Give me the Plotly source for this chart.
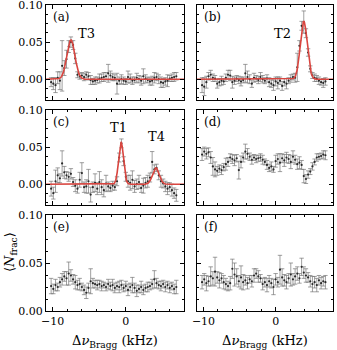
import numpy as np
import plotly.graph_objects as go

# ---------------- data ----------------
freq_khz = [-10.2, -9.9, -9.6, -9.3, -9.0, -8.7, -8.4, -8.1, -7.8, -7.5,
            -7.2, -6.9, -6.6, -6.3, -6.0, -5.7, -5.4, -5.1, -4.8, -4.5,
            -4.2, -3.9, -3.6, -3.3, -3.0, -2.7, -2.4, -2.1, -1.8, -1.5,
            -1.2, -0.9, -0.6, -0.3, 0.0, 0.3, 0.6, 0.9, 1.2, 1.5,
            1.8, 2.1, 2.4, 2.7, 3.0, 3.3, 3.6, 3.9, 4.2, 4.5,
            4.8, 5.1, 5.4, 5.7, 6.0, 6.3, 6.6, 6.9]

nfrac_a = [-0.004, -0.006, -0.008, 0.002, -0.002, 0.018, 0.015, 0.027, 0.044, 0.050,
           0.046, 0.028, 0.006, 0.004, 0.005, 0.003, 0.006, 0.004, -0.001, -0.003,
           -0.002, -0.001, 0.001, 0.002, 0.003, 0.004, 0.008, 0.005, 0.003, 0.002,
           -0.006, -0.002, 0.000, -0.002, -0.003, 0.003, 0.001, -0.002, -0.001, 0.002,
           0.000, -0.002, 0.004, 0.001, -0.001, -0.003, -0.002, 0.002, 0.003, 0.000,
           -0.004, -0.005, -0.003, -0.002, 0.001, 0.002, 0.003, 0.004]
err_a = [0.006, 0.008, 0.010, 0.008, 0.012, 0.034, 0.010, 0.012, 0.008, 0.007,
         0.006, 0.007, 0.004, 0.004, 0.004, 0.005, 0.004, 0.005, 0.006, 0.004,
         0.005, 0.004, 0.006, 0.005, 0.006, 0.005, 0.012, 0.006, 0.005, 0.004,
         0.014, 0.005, 0.006, 0.005, 0.004, 0.008, 0.006, 0.005, 0.004, 0.006,
         0.005, 0.006, 0.010, 0.005, 0.004, 0.005, 0.006, 0.007, 0.005, 0.006,
         0.007, 0.006, 0.005, 0.008, 0.004, 0.005, 0.006, 0.005]

nfrac_b = [-0.008, -0.010, -0.004, 0.004, 0.006, 0.002, 0.001, -0.006, -0.004, -0.002,
           -0.003, 0.002, 0.006, 0.005, -0.004, -0.002, 0.001, -0.001, -0.003, -0.001,
           0.008, 0.003, 0.000, -0.006, 0.002, 0.001, -0.001, 0.003, 0.000, -0.002,
           0.001, -0.004, -0.006, -0.008, -0.003, -0.005, -0.002, -0.009, -0.004, -0.006,
           -0.002, 0.001, 0.003, 0.002, 0.016, 0.045, 0.072, 0.077, 0.062, 0.036,
           0.014, 0.005, 0.002, 0.001, -0.002, -0.004, -0.005, -0.003]
err_b = [0.010, 0.012, 0.008, 0.005, 0.006, 0.005, 0.004, 0.006, 0.005, 0.006,
         0.004, 0.005, 0.006, 0.007, 0.008, 0.005, 0.004, 0.005, 0.006, 0.004,
         0.012, 0.008, 0.006, 0.005, 0.006, 0.004, 0.005, 0.006, 0.005, 0.004,
         0.005, 0.006, 0.005, 0.007, 0.006, 0.008, 0.005, 0.006, 0.005, 0.007,
         0.004, 0.005, 0.004, 0.006, 0.019, 0.007, 0.006, 0.015, 0.006, 0.005,
         0.004, 0.004, 0.005, 0.004, 0.005, 0.004, 0.006, 0.005]

nfrac_c = [-0.006, -0.012, 0.004, 0.012, 0.008, 0.028, 0.016, 0.012, 0.010, 0.014,
           0.003, -0.002, -0.006, 0.006, 0.015, -0.004, -0.003, 0.004, -0.014, -0.004,
           0.002, -0.006, 0.003, -0.004, -0.008, 0.001, -0.003, -0.005, -0.002, -0.004,
           0.004, 0.036, 0.055, 0.031, 0.010, 0.004, 0.002, 0.006, -0.003, 0.000,
           0.003, -0.005, -0.002, 0.002, 0.004, 0.009, 0.030, 0.020, 0.022, 0.012,
           0.004, 0.001, -0.003, -0.006, -0.004, -0.008, -0.012, -0.015]
err_c = [0.010, 0.008, 0.015, 0.010, 0.006, 0.017, 0.008, 0.005, 0.006, 0.007,
         0.006, 0.008, 0.006, 0.010, 0.014, 0.007, 0.009, 0.016, 0.010, 0.007,
         0.012, 0.008, 0.014, 0.010, 0.009, 0.011, 0.006, 0.005, 0.006, 0.004,
         0.006, 0.006, 0.006, 0.006, 0.006, 0.008, 0.010, 0.012, 0.008, 0.007,
         0.009, 0.006, 0.010, 0.007, 0.008, 0.006, 0.014, 0.006, 0.005, 0.006,
         0.008, 0.006, 0.007, 0.008, 0.006, 0.008, 0.007, 0.008]

nfrac_d = [0.040, 0.044, 0.041, 0.043, 0.036, 0.024, 0.020, 0.018, 0.021, 0.019,
           0.023, 0.027, 0.030, 0.036, 0.034, 0.032, 0.035, 0.019, 0.030, 0.036,
           0.044, 0.041, 0.037, 0.033, 0.036, 0.034, 0.035, 0.036, 0.033, 0.030,
           0.026, 0.022, 0.024, 0.020, 0.031, 0.034, 0.029, 0.035, 0.032, 0.036,
           0.034, 0.030, 0.037, 0.033, 0.027, 0.029, 0.026, 0.011, 0.007, 0.013,
           0.017, 0.024, 0.030, 0.036, 0.037, 0.038, 0.040, 0.039]
err_d = [0.008, 0.006, 0.007, 0.006, 0.008, 0.012, 0.010, 0.006, 0.005, 0.006,
         0.005, 0.008, 0.006, 0.005, 0.006, 0.007, 0.005, 0.012, 0.008, 0.006,
         0.010, 0.007, 0.005, 0.006, 0.004, 0.005, 0.004, 0.005, 0.006, 0.004,
         0.006, 0.005, 0.006, 0.004, 0.008, 0.007, 0.012, 0.006, 0.008, 0.007,
         0.006, 0.009, 0.008, 0.006, 0.007, 0.008, 0.006, 0.009, 0.006, 0.005,
         0.004, 0.005, 0.004, 0.005, 0.004, 0.004, 0.005, 0.006]

nfrac_e = [0.026, 0.023, 0.027, 0.025, 0.030, 0.033, 0.036, 0.034, 0.039, 0.037,
           0.033, 0.030, 0.027, 0.028, 0.025, 0.022, 0.019, 0.024, 0.031, 0.029,
           0.028, 0.027, 0.028, 0.026, 0.027, 0.025, 0.028, 0.026, 0.027, 0.024,
           0.026, 0.025, 0.027, 0.024, 0.026, 0.022, 0.025, 0.027, 0.024, 0.021,
           0.023, 0.025, 0.022, 0.024, 0.025, 0.026, 0.028, 0.033, 0.029, 0.027,
           0.026, 0.028, 0.025, 0.027, 0.024, 0.026, 0.023, 0.025]
err_e = [0.008, 0.005, 0.006, 0.004, 0.005, 0.006, 0.005, 0.007, 0.012, 0.006,
         0.005, 0.007, 0.005, 0.006, 0.004, 0.005, 0.006, 0.005, 0.013, 0.005,
         0.004, 0.005, 0.004, 0.005, 0.003, 0.004, 0.005, 0.004, 0.006, 0.005,
         0.004, 0.006, 0.005, 0.004, 0.005, 0.006, 0.004, 0.008, 0.005, 0.006,
         0.004, 0.006, 0.005, 0.004, 0.005, 0.004, 0.005, 0.009, 0.005, 0.004,
         0.005, 0.004, 0.005, 0.004, 0.005, 0.004, 0.005, 0.007]

nfrac_f = [0.030, 0.033, 0.029, 0.031, 0.036, 0.034, 0.041, 0.035, 0.032, 0.034,
           0.030, 0.028, 0.026, 0.029, 0.044, 0.038, 0.036, 0.031, 0.035, 0.030,
           0.032, 0.029, 0.033, 0.031, 0.037, 0.039, 0.036, 0.034, 0.028, 0.030,
           0.027, 0.031, 0.029, 0.025, 0.033, 0.030, 0.043, 0.035, 0.032, 0.030,
           0.034, 0.038, 0.033, 0.036, 0.039, 0.034, 0.046, 0.040, 0.037, 0.035,
           0.031, 0.028, 0.030, 0.027, 0.032, 0.029, 0.031, 0.030]
err_f = [0.007, 0.006, 0.008, 0.005, 0.010, 0.007, 0.015, 0.006, 0.008, 0.005,
         0.007, 0.006, 0.005, 0.007, 0.010, 0.012, 0.008, 0.006, 0.012, 0.008,
         0.005, 0.006, 0.004, 0.006, 0.007, 0.005, 0.006, 0.004, 0.006, 0.005,
         0.007, 0.006, 0.005, 0.008, 0.006, 0.005, 0.015, 0.009, 0.006, 0.007,
         0.005, 0.012, 0.006, 0.008, 0.007, 0.005, 0.009, 0.006, 0.007, 0.005,
         0.006, 0.008, 0.006, 0.007, 0.005, 0.006, 0.005, 0.007]

# Gaussian fit parameters per panel: (centre kHz, amplitude, sigma kHz)
fit_a = [(-7.5, 0.053, 0.55)]
fit_b = [(3.9, 0.078, 0.48)]
fit_c = [(-0.65, 0.057, 0.33), (4.1, 0.022, 0.45)]

panel_labels = ["(a)", "(b)", "(c)", "(d)", "(e)", "(f)"]
peak_labels = [("a", "T3", -5.4, 0.062), ("b", "T2", 1.0, 0.062),
               ("c", "T1", -0.95, 0.076), ("c", "T4", 4.25, 0.064)]
x_tick_vals = [-10, 0]
x_tick_text = ["\u221210", "0"]
y_tick_vals = [0.0, 0.05, 0.10]
y_tick_text = ["0.00", "0.05", "0.10"]

# ---------------- figure ----------------
W, H = 337, 350
FONT = "DejaVu Serif"
fig = go.Figure()

xdom = [[46 / W, 184 / W], [197 / W, 333 / W]]
ypix = [(5, 100), (110, 205), (215, 311)]
ydom = [[1 - b / H, 1 - t / H] for t, b in ypix]
yranges = [[-0.028, 0.10], [-0.028, 0.10], [0.0, 0.10]]

panels = {
    "a": (0, 0, nfrac_a, err_a, fit_a),
    "b": (0, 1, nfrac_b, err_b, fit_b),
    "c": (1, 0, nfrac_c, err_c, fit_c),
    "d": (1, 1, nfrac_d, err_d, None),
    "e": (2, 0, nfrac_e, err_e, None),
    "f": (2, 1, nfrac_f, err_f, None),
}

fine_x = np.linspace(-10.9, 7.95, 600)
axmap = {}
for i, (key, (r, c, yv, ev, fit)) in enumerate(panels.items()):
    n = i + 1
    xa = "x" if n == 1 else f"x{n}"
    ya = "y" if n == 1 else f"y{n}"
    axmap[key] = (xa, ya, n)
    fig.add_trace(go.Scatter(
        x=freq_khz, y=yv, mode="markers", xaxis=xa, yaxis=ya,
        marker=dict(size=2.2, color="#2a2a2a"),
        error_y=dict(type="data", array=ev, visible=True, color="#757575",
                     thickness=0.7, width=2.2),
        showlegend=False, hoverinfo="skip"))
    if fit is not None:
        fy = np.zeros_like(fine_x)
        for (c0, amp, sig) in fit:
            fy = fy + amp * np.exp(-(fine_x - c0) ** 2 / (2 * sig ** 2))
        fig.add_trace(go.Scatter(
            x=fine_x, y=fy, mode="lines", xaxis=xa, yaxis=ya,
            line=dict(color="#d9453f", width=1.6),
            showlegend=False, hoverinfo="skip"))

    axis_common = dict(showline=True, mirror="ticks", linecolor="black",
                       linewidth=1, ticks="inside", tickcolor="black",
                       ticklen=4, tickwidth=1, showgrid=False, zeroline=False,
                       automargin=False, ticklabeloverflow="allow",
                       tickfont=dict(family=FONT, size=11, color="black"))
    xkw = dict(axis_common, domain=xdom[c], range=[-10.9, 7.95],
               tickvals=x_tick_vals, ticktext=x_tick_text,
               showticklabels=(r == 2), anchor=ya,
               minor=dict(ticks="inside", ticklen=2, tickcolor="black",
                          tickvals=[-10, -8, -6, -4, -2, 0, 2, 4, 6]))
    ykw = dict(axis_common, domain=ydom[r], range=yranges[r],
               tickvals=y_tick_vals, ticktext=y_tick_text,
               showticklabels=(c == 0), anchor=xa,
               minor=dict(ticks="inside", ticklen=2, tickcolor="black",
                          tickvals=[-0.025, -0.0125, 0.0125, 0.025, 0.0375,
                                    0.0625, 0.075, 0.0875]))
    fig.update_layout(**{("xaxis" if n == 1 else f"xaxis{n}"): xkw,
                         ("yaxis" if n == 1 else f"yaxis{n}"): ykw})

    fig.add_annotation(text=panel_labels[i], xref=f"{xa} domain", yref=f"{ya} domain",
                       x=0.035, y=0.875, xanchor="left", yanchor="middle",
                       showarrow=False, font=dict(family=FONT, size=12, color="black"))

for key, txt, px, py in peak_labels:
    xa, ya, n = axmap[key]
    fig.add_annotation(text=txt, x=px, y=py, xref=xa, yref=ya, showarrow=False,
                       xanchor="center", yanchor="middle",
                       font=dict(family=FONT, size=13, color="black"))

xlabel = "\u0394<i>\u03bd</i><sub>Bragg</sub> (kHz)"
for cx in [(46 + 184) / 2 / W, (197 + 333) / 2 / W]:
    fig.add_annotation(text=xlabel, xref="paper", yref="paper", x=cx, y=1 - 341 / H,
                       xanchor="center", yanchor="middle", showarrow=False,
                       font=dict(family=FONT, size=13, color="black"))
fig.add_annotation(text="\u27e8<i>N</i><sub>frac</sub>\u27e9", xref="paper", yref="paper",
                   x=10 / W, y=1 - 252 / H, textangle=-90, xanchor="center",
                   yanchor="middle", showarrow=False,
                   font=dict(family=FONT, size=13, color="black"))

fig.update_layout(width=W, height=H, margin=dict(l=0, r=0, t=0, b=0),
                  paper_bgcolor="white", plot_bgcolor="white", showlegend=False,
                  hovermode=False)
fig.write_html("out.html", config={"displayModeBar": False, "staticPlot": True},
               post_script="document.body.style.margin='0px';document.body.style.overflow='hidden';")
